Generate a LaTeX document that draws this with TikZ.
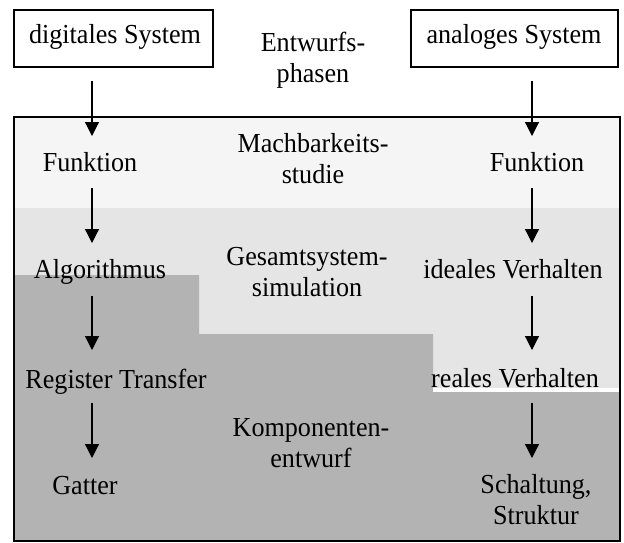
\documentclass[tikz,border=0pt]{standalone}
\usepackage{fontspec}
\setmainfont{Liberation Serif}[FakeStretch=0.95]
\usetikzlibrary{arrows.meta}
\definecolor{bandA}{HTML}{F5F5F5}
\definecolor{bandB}{HTML}{E5E5E5}
\definecolor{bandC}{HTML}{B3B3B3}
\tikzset{
  lbl/.style={inner sep=0pt, anchor=base, align=center, font=\fontsize{27.5}{31}\selectfont},
  sysbox/.style={draw, line width=1.3pt},
  flow/.style={line width=1.2pt, -{Triangle[width=14pt,length=14pt]}}
}
\begin{document}
\begin{tikzpicture}[x=1pt,y=-1pt]
\useasboundingbox (0,0) rectangle (624,542);
% bands
\fill[bandA] (14,117) rectangle (620,208);
\fill[bandB] (14,208) rectangle (620,392);
\fill[bandC] (14,275) -- (199,275) -- (199,334) -- (433,334) -- (433,392) -- (620,392) -- (620,541) -- (14,541) -- cycle;
\fill[white] (433,388) rectangle (620,392);
\draw[line width=1.3pt] (14,117) rectangle (620,541);
% top boxes
\draw[sysbox] (14,10) rectangle (213,67);
\draw[sysbox] (411,10) rectangle (618,67);
\node[lbl] (dig) at (115,43) {digitales System};
\node[lbl] (ana) at (514,43) {analoges System};
\node[lbl] (phase) at (313,82) {Entwurfs-\\phasen};
\node[lbl] (mach) at (313,183) {Machbarkeits-\\studie};
\node[lbl] (gesamt) at (307,296) {Gesamtsystem-\\simulation};
\node[lbl] (komp) at (311,467) {Komponenten-\\entwurf};
% left column
\node[lbl] (fl) at (90,171) {Funktion};
\node[lbl] (alg) at (100,278) {Algorithmus};
\node[lbl] (reg) at (116,388) {Register Transfer};
\node[lbl] (gat) at (85,494) {Gatter};
% right column
\node[lbl] (fr) at (537,171) {Funktion};
\node[lbl] (ideal) at (513,278) {ideales Verhalten};
\node[lbl] (real) at (515,387) {reales Verhalten};
\node[lbl] (schalt) at (536,524) {Schaltung,\\Struktur};
% arrow end points
\coordinate (l0) at (92,81);  \coordinate (l1) at (92,136);
\coordinate (l2) at (92,188); \coordinate (l3) at (92,243);
\coordinate (l4) at (92,296); \coordinate (l5) at (92,350);
\coordinate (l6) at (92,403); \coordinate (l7) at (92,458);
\coordinate (r0) at (532,81);  \coordinate (r1) at (532,136);
\coordinate (r2) at (532,188); \coordinate (r3) at (532,243);
\coordinate (r4) at (532,296); \coordinate (r5) at (532,350);
\coordinate (r6) at (532,403); \coordinate (r7) at (532,458);
\draw[flow] (l0) -- (l1);
\draw[flow] (l2) -- (l3);
\draw[flow] (l4) -- (l5);
\draw[flow] (l6) -- (l7);
\draw[flow] (r0) -- (r1);
\draw[flow] (r2) -- (r3);
\draw[flow] (r4) -- (r5);
\draw[flow] (r6) -- (r7);
\end{tikzpicture}
\end{document}
